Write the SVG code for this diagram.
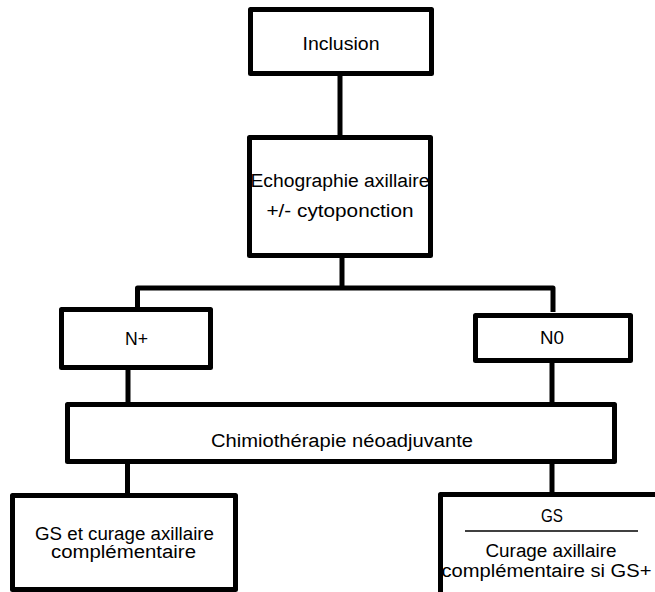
<svg xmlns="http://www.w3.org/2000/svg" width="655" height="592" viewBox="0 0 655 592">
<style>
.box{fill:#fff;stroke:#000;stroke-width:5;stroke-linejoin:round}
.conn{fill:none;stroke:#000;stroke-width:5;stroke-linejoin:round}
.t{font-family:"Liberation Sans","DejaVu Sans",sans-serif;font-size:18px;fill:#000;text-anchor:middle}
</style>
<rect width="655" height="592" fill="#fff"/>
<g id="connectors">
<path class="conn" d="M340,76 V136"/>
<path class="conn" d="M342,257 V288"/>
<path class="conn" d="M137.5,308 V288 H553 V312"/>
<path class="conn" d="M128,369 V404"/>
<path class="conn" d="M552,362 V404"/>
<path class="conn" d="M127.5,463 V495"/>
<path class="conn" d="M552,463 V494"/>
</g>
<g id="inclusion">
<rect class="box" x="250.5" y="9.5" width="181" height="64"/>
<text class="t" x="341" y="50" textLength="77" lengthAdjust="spacingAndGlyphs">Inclusion</text>
</g>
<g id="echographie">
<rect class="box" x="249.5" y="137.5" width="181" height="118"/>
<text class="t" x="340" y="187" textLength="179" lengthAdjust="spacingAndGlyphs">Echographie axillaire</text>
<text class="t" x="340" y="217" textLength="147" lengthAdjust="spacingAndGlyphs">+/- cytoponction</text>
</g>
<g id="nplus">
<rect class="box" x="61.5" y="309.5" width="149" height="58"/>
<text class="t" x="136.5" y="345" textLength="23" lengthAdjust="spacingAndGlyphs">N+</text>
</g>
<g id="n0">
<rect class="box" x="475.5" y="315.5" width="155" height="45"/>
<text class="t" x="552" y="344" textLength="24" lengthAdjust="spacingAndGlyphs">N0</text>
</g>
<g id="chimio">
<rect class="box" x="67.5" y="404.5" width="547" height="57"/>
<text class="t" x="342" y="447" textLength="262" lengthAdjust="spacingAndGlyphs">Chimiothérapie néoadjuvante</text>
</g>
<g id="gs-curage">
<rect class="box" x="12.5" y="495.5" width="223" height="94"/>
<text class="t" x="124.5" y="540" textLength="179" lengthAdjust="spacingAndGlyphs">GS et curage axillaire</text>
<text class="t" x="123.5" y="558" textLength="145" lengthAdjust="spacingAndGlyphs">complémentaire</text>
</g>
<g id="gs">
<rect class="box" x="440.5" y="494.5" width="222" height="104"/>
<text class="t" x="552" y="522" textLength="22" lengthAdjust="spacingAndGlyphs">GS</text>
<line x1="465" y1="531" x2="638" y2="531" stroke="#000" stroke-width="1.5"/>
<text class="t" x="551" y="557" textLength="131" lengthAdjust="spacingAndGlyphs">Curage axillaire</text>
<text class="t" x="546.5" y="577" textLength="210" lengthAdjust="spacingAndGlyphs">complémentaire si GS+</text>
</g>
</svg>
